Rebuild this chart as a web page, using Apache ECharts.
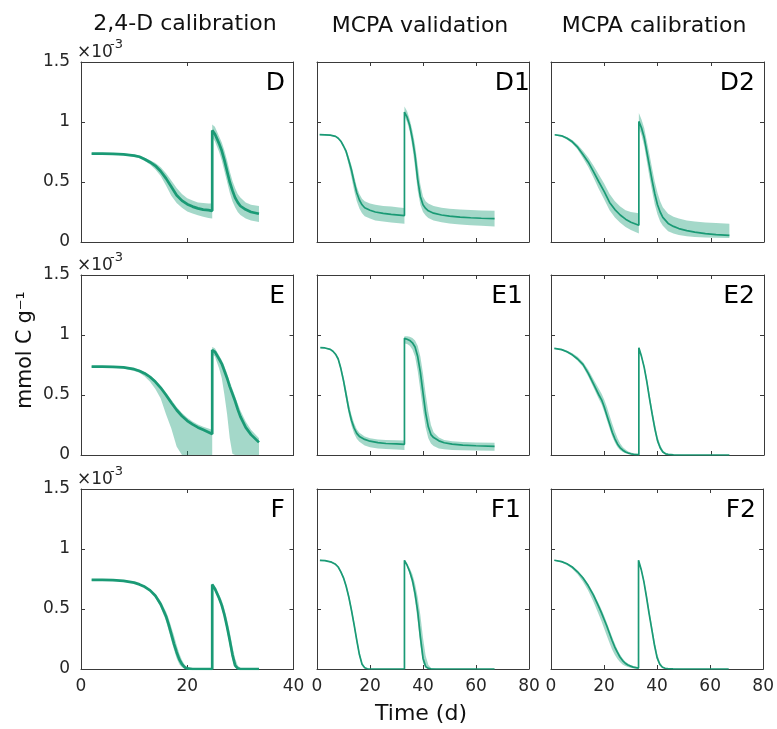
<!DOCTYPE html>
<html><head><meta charset="utf-8">
<script src="https://cdn.jsdelivr.net/npm/echarts@6/dist/echarts.min.js"></script>
<style>html,body{margin:0;padding:0;background:#fff}#c{width:777px;height:729px}</style>
</head><body><div id="c"></div>
<script>
// ---- text ----
const colTitles = ['2,4-D calibration', 'MCPA validation', 'MCPA calibration'];
const panelLabels = ['D', 'D1', 'D2', 'E', 'E1', 'E2', 'F', 'F1', 'F2'];
const xLabel = 'Time (d)';
const yLabel = 'mmol C g\u207B\u00B9';
const xMaxByCol = [40, 80, 80];
const xTickStep = 20;
const yMax = 1.5;          // x10^-3
const yTickStep = 0.5;

// ---- data (values in units of 1e-3 mmol C g-1) ----
const D_t   = [2,4,6,8,10,11,12,13,14,15,16,17,18,19,20,21,22,23,24,24.7,24.7,25.2,26,26.5,27,27.5,28,28.5,29,29.5,30,31,32,33.5];
const D_mid = [0.736,0.736,0.735,0.730,0.720,0.710,0.690,0.665,0.635,0.590,0.530,0.460,0.390,0.345,0.315,0.295,0.280,0.270,0.265,0.260,0.930,0.900,0.820,0.760,0.680,0.590,0.500,0.430,0.370,0.330,0.300,0.270,0.250,0.235];
const D_lo  = [0.730,0.730,0.728,0.722,0.710,0.698,0.675,0.645,0.605,0.550,0.470,0.385,0.325,0.285,0.255,0.237,0.223,0.210,0.200,0.195,0.870,0.840,0.750,0.680,0.590,0.500,0.410,0.340,0.290,0.250,0.225,0.195,0.180,0.167];
const D_hi  = [0.742,0.742,0.742,0.738,0.730,0.720,0.702,0.682,0.658,0.622,0.572,0.512,0.450,0.400,0.365,0.345,0.330,0.325,0.320,0.320,0.980,0.960,0.880,0.830,0.760,0.680,0.590,0.510,0.450,0.400,0.370,0.330,0.310,0.300];

const E_t   = [2,4,6,8,10,11,12,13,14,15,16,17,18,19,20,21,22,23,24,24.7,24.7,25.2,26,26.5,27,27.5,28,28.5,29,29.5,30,31,32,33.5];
const E_mid = [0.736,0.736,0.735,0.730,0.715,0.700,0.680,0.650,0.610,0.560,0.500,0.435,0.375,0.325,0.285,0.255,0.230,0.210,0.190,0.175,0.875,0.860,0.800,0.760,0.700,0.640,0.570,0.510,0.450,0.380,0.320,0.230,0.170,0.105];
const E_lo  = [0.730,0.730,0.728,0.720,0.700,0.685,0.655,0.610,0.550,0.470,0.340,0.220,0.070,0,0,0,0,0,0,0,0.840,0.820,0.720,0.640,0.500,0.340,0.140,0.010,0,0,0,0,0,0];
const E_hi  = [0.742,0.742,0.742,0.738,0.725,0.712,0.692,0.665,0.625,0.578,0.520,0.460,0.400,0.350,0.310,0.280,0.255,0.235,0.220,0.210,0.900,0.890,0.830,0.790,0.740,0.680,0.610,0.550,0.490,0.430,0.370,0.280,0.210,0.140];

const F_t   = [2,4,6,8,10,11,12,13,14,15,16,16.5,17,17.5,18,18.5,19,19.5,20,21,22,23,24,24.7,24.7,25.2,26,26.5,27,27.5,28,28.5,29,29.5,30,31,32,33.5];
const F_mid = [0.742,0.742,0.740,0.735,0.720,0.705,0.685,0.655,0.610,0.540,0.440,0.370,0.290,0.210,0.140,0.080,0.040,0.015,0.005,0,0,0,0,0,0.705,0.670,0.590,0.530,0.450,0.350,0.240,0.120,0.030,0.005,0,0,0,0];
const F_lo  = [0.737,0.737,0.735,0.730,0.714,0.698,0.677,0.645,0.595,0.515,0.400,0.320,0.240,0.160,0.090,0.040,0.015,0.003,0,0,0,0,0,0,0.690,0.650,0.570,0.500,0.420,0.310,0.190,0.080,0.010,0,0,0,0,0];
const F_hi  = [0.746,0.746,0.745,0.740,0.726,0.712,0.693,0.665,0.625,0.565,0.480,0.420,0.350,0.280,0.200,0.130,0.075,0.035,0.012,0.002,0,0,0,0,0.715,0.690,0.620,0.570,0.500,0.410,0.310,0.190,0.090,0.030,0.008,0,0,0];

const D1_t   = [1,3,5,7,8,9,10,11,12,13,14,15,16,17,18,20,22,25,28,31,33,33,34,35,36,37,38,39,40,41,42,44,47,50,54,58,62,67];
const D1_mid = [0.894,0.893,0.890,0.880,0.865,0.840,0.800,0.755,0.680,0.600,0.500,0.410,0.350,0.310,0.285,0.265,0.250,0.238,0.230,0.224,0.220,1.083,1.040,0.970,0.860,0.720,0.520,0.380,0.310,0.280,0.260,0.240,0.225,0.215,0.207,0.202,0.198,0.194];
const D1_lo  = [0.890,0.889,0.886,0.875,0.858,0.830,0.785,0.730,0.640,0.540,0.430,0.340,0.280,0.240,0.215,0.195,0.180,0.170,0.162,0.156,0.153,1.050,1.000,0.920,0.790,0.620,0.430,0.310,0.250,0.220,0.200,0.180,0.165,0.155,0.145,0.140,0.135,0.130];
const D1_hi  = [0.898,0.897,0.894,0.885,0.872,0.850,0.812,0.772,0.710,0.640,0.550,0.460,0.400,0.360,0.340,0.320,0.310,0.300,0.295,0.288,0.283,1.130,1.090,1.020,0.930,0.810,0.640,0.480,0.380,0.340,0.320,0.300,0.285,0.278,0.270,0.266,0.263,0.260];

const D2_t   = [1.4,4,6,8,10,12,14,16,18,20,22,24,26,28,30,33,33,34,35,36,37,38,39,40,41,42,44,46,48,51,54,58,62,67];
const D2_mid = [0.894,0.885,0.865,0.835,0.790,0.730,0.665,0.585,0.500,0.420,0.330,0.270,0.225,0.190,0.165,0.139,1.005,0.950,0.870,0.750,0.630,0.510,0.400,0.310,0.250,0.205,0.155,0.130,0.112,0.095,0.082,0.070,0.062,0.056];
const D2_lo  = [0.890,0.878,0.855,0.820,0.770,0.700,0.625,0.535,0.440,0.355,0.265,0.205,0.160,0.125,0.100,0.070,0.950,0.890,0.800,0.670,0.540,0.420,0.310,0.230,0.170,0.135,0.090,0.070,0.058,0.048,0.042,0.038,0.035,0.033];
const D2_hi  = [0.898,0.892,0.875,0.850,0.810,0.760,0.705,0.635,0.560,0.485,0.400,0.340,0.295,0.265,0.250,0.240,1.075,1.020,0.950,0.840,0.730,0.610,0.500,0.410,0.340,0.290,0.235,0.210,0.195,0.180,0.170,0.163,0.158,0.153];

const E1_t   = [1.25,3,5,6,7,8,9,10,11,12,13,14,15,16,18,20,23,26,30,33,33,34,35,36,37,38,39,40,41,42,43,44,46,48,51,55,60,67];
const E1_mid = [0.894,0.892,0.880,0.865,0.840,0.800,0.720,0.620,0.500,0.380,0.290,0.225,0.180,0.155,0.130,0.115,0.103,0.096,0.092,0.089,0.972,0.965,0.955,0.935,0.900,0.820,0.690,0.520,0.350,0.235,0.170,0.145,0.118,0.102,0.090,0.082,0.077,0.072];
const E1_lo  = [0.890,0.888,0.875,0.858,0.830,0.785,0.700,0.590,0.460,0.340,0.245,0.180,0.135,0.110,0.080,0.065,0.055,0.050,0.045,0.042,0.930,0.925,0.910,0.880,0.820,0.700,0.540,0.370,0.230,0.140,0.095,0.075,0.055,0.047,0.042,0.039,0.037,0.036];
const E1_hi  = [0.898,0.896,0.886,0.872,0.850,0.815,0.745,0.655,0.545,0.430,0.335,0.265,0.215,0.185,0.155,0.140,0.130,0.125,0.122,0.120,0.990,0.990,0.985,0.975,0.955,0.910,0.820,0.680,0.510,0.360,0.250,0.190,0.145,0.125,0.115,0.108,0.105,0.103];

const E2_t   = [1.25,4,6,8,10,12,14,16,18,19,20,21,22,23,24,25,26,27,28,29,30,31,33,33,34,35,36,37,38,39,40,41,42,43,44,46,50,67];
const E2_mid = [0.889,0.878,0.860,0.835,0.800,0.755,0.680,0.590,0.500,0.460,0.400,0.330,0.260,0.190,0.135,0.090,0.060,0.040,0.025,0.016,0.010,0.006,0.003,0.894,0.820,0.730,0.610,0.470,0.340,0.220,0.120,0.060,0.025,0.010,0.005,0.001,0,0];
const E2_lo  = [0.885,0.872,0.852,0.825,0.785,0.735,0.655,0.560,0.465,0.420,0.360,0.290,0.220,0.155,0.105,0.065,0.040,0.025,0.015,0.008,0.005,0.003,0.001,0.890,0.810,0.710,0.585,0.440,0.310,0.190,0.100,0.045,0.018,0.006,0.002,0,0,0];
const E2_hi  = [0.893,0.885,0.870,0.848,0.818,0.775,0.710,0.630,0.550,0.510,0.460,0.400,0.330,0.260,0.195,0.140,0.095,0.065,0.045,0.030,0.020,0.014,0.008,0.900,0.835,0.755,0.645,0.510,0.380,0.260,0.155,0.085,0.040,0.018,0.008,0.002,0,0];

const F1_t   = [1.1,3,5.5,7,8,9,10,11,12,13,14,15,16,17,18,19,20,25,30,33,33,34,35,36,37,38,39,40,41,42,43,45,50,67];
const F1_mid = [0.906,0.903,0.890,0.872,0.850,0.810,0.760,0.690,0.600,0.490,0.370,0.240,0.120,0.040,0.010,0.002,0,0,0,0,0.906,0.865,0.810,0.740,0.630,0.480,0.270,0.090,0.020,0.005,0.001,0,0,0];
const F1_lo  = [0.902,0.899,0.885,0.866,0.842,0.800,0.745,0.670,0.575,0.460,0.340,0.210,0.100,0.030,0.006,0,0,0,0,0,0.900,0.855,0.790,0.700,0.570,0.400,0.200,0.050,0.008,0,0,0,0,0];
const F1_hi  = [0.910,0.907,0.895,0.878,0.857,0.820,0.775,0.710,0.625,0.520,0.400,0.270,0.145,0.055,0.016,0.004,0,0,0,0,0.910,0.880,0.840,0.790,0.710,0.600,0.450,0.260,0.110,0.035,0.008,0.001,0,0];

const F2_t   = [1.25,4,6,8,10,12,14,16,18,19,20,21,22,23,24,25,26,27,28,29,30,31,33,33,34,35,36,37,38,39,40,41,42,43,44,46,50,67];
const F2_mid = [0.906,0.895,0.877,0.850,0.810,0.760,0.695,0.615,0.520,0.470,0.415,0.360,0.300,0.240,0.185,0.140,0.100,0.070,0.048,0.034,0.024,0.016,0.008,0.906,0.830,0.730,0.600,0.460,0.330,0.200,0.095,0.040,0.015,0.006,0.003,0.001,0,0];
const F2_lo  = [0.902,0.888,0.866,0.835,0.790,0.730,0.655,0.560,0.455,0.400,0.340,0.280,0.220,0.165,0.120,0.085,0.058,0.038,0.025,0.016,0.010,0.006,0.002,0.900,0.820,0.715,0.580,0.440,0.310,0.180,0.080,0.030,0.010,0.003,0.001,0,0,0];
const F2_hi  = [0.910,0.900,0.883,0.857,0.820,0.772,0.710,0.635,0.545,0.497,0.445,0.390,0.330,0.270,0.215,0.165,0.120,0.087,0.062,0.045,0.033,0.024,0.013,0.910,0.845,0.755,0.635,0.500,0.370,0.240,0.130,0.060,0.025,0.010,0.005,0.002,0,0];

const panels = [
  {t: D_t,  mid: D_mid,  lo: D_lo,  hi: D_hi},
  {t: D1_t, mid: D1_mid, lo: D1_lo, hi: D1_hi},
  {t: D2_t, mid: D2_mid, lo: D2_lo, hi: D2_hi},
  {t: E_t,  mid: E_mid,  lo: E_lo,  hi: E_hi},
  {t: E1_t, mid: E1_mid, lo: E1_lo, hi: E1_hi},
  {t: E2_t, mid: E2_mid, lo: E2_lo, hi: E2_hi},
  {t: F_t,  mid: F_mid,  lo: F_lo,  hi: F_hi},
  {t: F1_t, mid: F1_mid, lo: F1_lo, hi: F1_hi},
  {t: F2_t, mid: F2_mid, lo: F2_lo, hi: F2_hi}
];

// ---- layout / style ----
const FONT = '"DejaVu Sans", Verdana, sans-serif';
const colLeft = [81, 317, 551];
const colWidth = [212.5, 212, 213];
const rowTop = [62, 275, 489];
const plotH = 180;
const lineColor = '#1a9a75';
const bandColor = 'rgba(27,158,119,0.40)';
const axisColor = '#3a3a3a';
const textColor = '#262626';
const labelRight = [285, 530, 755, 285, 523, 755, 285, 521, 756];

const grids = [], xAxes = [], yAxes = [], series = [], graphics = [];

panels.forEach((pd, p) => {
  const r = Math.floor(p / 3), c = p % 3;
  grids.push({left: colLeft[c], top: rowTop[r], width: colWidth[c], height: plotH});
  const axLine = {show: true, onZero: false, lineStyle: {color: axisColor, width: 1}};
  const axTick = {show: true, inside: true, length: 4, lineStyle: {color: axisColor, width: 1}};
  const xBase = {gridIndex: p, type: 'value', min: 0, max: xMaxByCol[c], interval: xTickStep,
    axisLine: axLine, axisTick: axTick, splitLine: {show: false}};
  xAxes.push(Object.assign({}, xBase, {position: 'bottom',
    axisLabel: {show: r === 2, fontSize: 17, color: textColor, fontFamily: FONT, margin: 9}}));
  xAxes.push(Object.assign({}, xBase, {position: 'top', axisLabel: {show: false}}));
  const yBase = {gridIndex: p, type: 'value', min: 0, max: yMax, interval: yTickStep,
    axisLine: axLine, axisTick: axTick, splitLine: {show: false}};
  yAxes.push(Object.assign({}, yBase, {position: 'left',
    axisLabel: {show: c === 0, fontSize: 17, color: textColor, fontFamily: FONT, margin: 11}}));
  yAxes.push(Object.assign({}, yBase, {position: 'right', axisLabel: {show: false}}));

  // uncertainty band: polygon through hi, back along lo, mapped through axis scales
  series.push({
    type: 'custom', coordinateSystem: 'cartesian2d', xAxisIndex: 2 * p, yAxisIndex: 2 * p,
    silent: true, z: 2, data: [[0, 0]],
    renderItem: function (params, api) {
      const pts = [];
      for (let i = 0; i < pd.t.length; i++) pts.push(api.coord([pd.t[i], pd.hi[i]]));
      for (let i = pd.t.length - 1; i >= 0; i--) pts.push(api.coord([pd.t[i], pd.lo[i]]));
      return {type: 'polygon', shape: {points: pts}, style: {fill: bandColor}};
    }
  });
  series.push({
    type: 'line', xAxisIndex: 2 * p, yAxisIndex: 2 * p, z: 3,
    data: pd.t.map((x, i) => [x, pd.mid[i]]),
    showSymbol: false, symbol: 'none', silent: true,
    lineStyle: {color: lineColor, width: c === 0 ? 2.7 : 1.7}
  });

  // panel letter
  graphics.push({type: 'text', x: labelRight[p], y: rowTop[r] + 9,
    style: {text: panelLabels[p], font: '25px ' + FONT, fill: '#000',
      textAlign: 'right', align: 'right', textVerticalAlign: 'top', verticalAlign: 'top'}});
  // exponent marker for first column
  if (c === 0) {
    graphics.push({type: 'text', x: 77, y: rowTop[r] - 9,
      style: {text: '\u00D710', font: '17px ' + FONT, fill: textColor,
        textAlign: 'left', align: 'left', textVerticalAlign: 'middle', verticalAlign: 'middle'}});
    graphics.push({type: 'text', x: 110, y: rowTop[r] - 17,
      style: {text: '-3', font: '13px ' + FONT, fill: textColor,
        textAlign: 'left', align: 'left', textVerticalAlign: 'middle', verticalAlign: 'middle'}});
  }
});

const titleX = [185, 420, 654];
const titleY = [24, 26, 26];
colTitles.forEach((t, c) => {
  graphics.push({type: 'text', x: titleX[c], y: titleY[c],
    style: {text: t, font: '22px ' + FONT, fill: '#111',
      textAlign: 'center', align: 'center', textVerticalAlign: 'middle', verticalAlign: 'middle'}});
});
graphics.push({type: 'text', x: 421, y: 714,
  style: {text: xLabel, font: '22px ' + FONT, fill: '#111',
    textAlign: 'center', align: 'center', textVerticalAlign: 'middle', verticalAlign: 'middle'}});
graphics.push({type: 'text', x: 26, y: 350, rotation: Math.PI / 2,
  style: {text: yLabel, font: '20.5px ' + FONT, fill: '#111',
    textAlign: 'center', align: 'center', textVerticalAlign: 'middle', verticalAlign: 'middle'}});

const chart = echarts.init(document.getElementById('c'), null, {renderer: 'canvas'});
chart.setOption({
  animation: false,
  backgroundColor: '#fff',
  grid: grids,
  xAxis: xAxes,
  yAxis: yAxes,
  series: series,
  graphic: graphics
});
</script>
</body></html>
